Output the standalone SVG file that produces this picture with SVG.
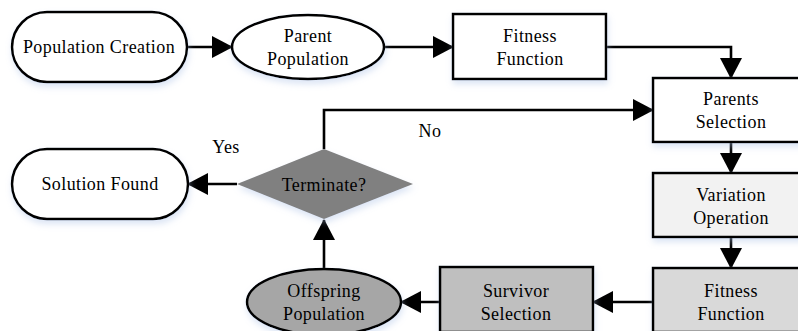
<svg xmlns="http://www.w3.org/2000/svg" width="798" height="331" viewBox="0 0 798 331">
  <style>
    .shape { stroke: #000; stroke-width: 2.5; filter: url(#glow); }
    .label { font-family: "Liberation Serif", "Times New Roman", serif; font-size: 18px; fill: #000; text-anchor: middle; letter-spacing: 0.4px; }
    .edge { fill: none; stroke: #000; stroke-width: 2.6; marker-end: url(#arrow); }
  </style>
  <defs>
    <!-- soft bluish drop shadow under the shapes -->
    <filter id="glow" x="-20%" y="-20%" width="140%" height="160%">
      <feGaussianBlur in="SourceAlpha" stdDeviation="3"/>
      <feOffset dx="1" dy="4" result="b"/>
      <feFlood flood-color="#a9bfe6" flood-opacity="0.4"/>
      <feComposite in2="b" operator="in"/>
      <feMerge><feMergeNode/><feMergeNode in="SourceGraphic"/></feMerge>
    </filter>
    <marker id="arrow" viewBox="0 0 21 22" markerWidth="21" markerHeight="22" refX="20" refY="11" orient="auto" markerUnits="userSpaceOnUse">
      <path d="M0,0 L21,11 L0,22 z" fill="#000"/>
    </marker>
  </defs>
  <rect width="798" height="331" fill="#fff"/>

  <!-- connectors -->
  <g id="connectors">
    <path class="edge" d="M187,47 H232"/>
    <path class="edge" d="M385,47 H453"/>
    <path class="edge" d="M606,47 H731 V78"/>
    <path class="edge" d="M731,142 V173"/>
    <path class="edge" d="M731,237 V268"/>
    <path class="edge" d="M653,302 H593"/>
    <path class="edge" d="M440,302 H401"/>
    <path class="edge" d="M324,269 V220"/>
    <path class="edge" d="M237,184 H188"/>
    <path class="edge" d="M324,149 V110 H653"/>
    <text class="label" x="226" y="153">Yes</text>
    <text class="label" x="430" y="137">No</text>
  </g>

  <g id="population-creation">
    <rect class="shape" x="12" y="12" width="175" height="70" rx="35" fill="#fff"/>
    <text class="label" x="99" y="53">Population Creation</text>
  </g>

  <g id="parent-population">
    <ellipse class="shape" cx="308" cy="47" rx="76" ry="32" fill="#fff"/>
    <text class="label" x="308" y="42">Parent</text>
    <text class="label" x="308" y="65">Population</text>
  </g>

  <g id="fitness-function-1">
    <rect class="shape" x="453" y="14" width="153" height="65" fill="#fff"/>
    <text class="label" x="530" y="42">Fitness</text>
    <text class="label" x="530" y="65">Function</text>
  </g>

  <g id="parents-selection">
    <rect class="shape" x="653" y="78" width="158" height="64" fill="#fff"/>
    <text class="label" x="731" y="105">Parents</text>
    <text class="label" x="731" y="128">Selection</text>
  </g>

  <g id="variation-operation">
    <rect class="shape" x="653" y="173" width="158" height="64" fill="#f2f2f2"/>
    <text class="label" x="731" y="201">Variation</text>
    <text class="label" x="731" y="224">Operation</text>
  </g>

  <g id="fitness-function-2">
    <rect class="shape" x="653" y="268" width="158" height="64" fill="#d9d9d9"/>
    <text class="label" x="731" y="297">Fitness</text>
    <text class="label" x="731" y="320">Function</text>
  </g>

  <g id="survivor-selection">
    <rect class="shape" x="440" y="267" width="153" height="65" fill="#bfbfbf"/>
    <text class="label" x="516" y="297">Survivor</text>
    <text class="label" x="516" y="320">Selection</text>
  </g>

  <g id="offspring-population">
    <ellipse class="shape" cx="324" cy="302" rx="77" ry="33" fill="#a6a6a6"/>
    <text class="label" x="324" y="297">Offspring</text>
    <text class="label" x="324" y="320">Population</text>
  </g>

  <g id="terminate">
    <polygon points="324,149 413,184 324,219 237,184" fill="#808080" filter="url(#glow)"/>
    <text class="label" x="324" y="191">Terminate?</text>
  </g>

  <g id="solution-found">
    <rect class="shape" x="12" y="149" width="176" height="70" rx="35" fill="#fff"/>
    <text class="label" x="100" y="190">Solution Found</text>
  </g>
</svg>
